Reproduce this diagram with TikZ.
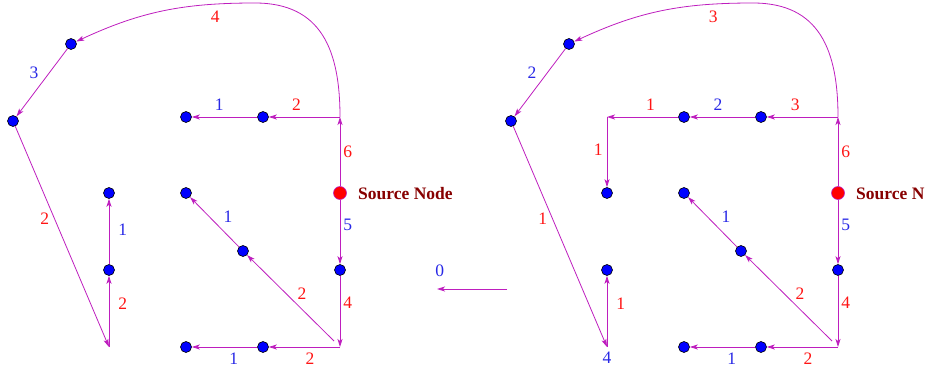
\documentclass[tikz,border=0pt]{standalone}
\usepackage{fontspec}
\setmainfont{Liberation Serif}
\usepackage{xcolor}
\usetikzlibrary{arrows.meta,positioning}
\definecolor{arestaCor}{RGB}{190,30,190}
\definecolor{azulRot}{RGB}{40,40,230}
\definecolor{vermRot}{RGB}{255,20,20}
\definecolor{fonteCor}{RGB}{135,0,0}
\newcommand{\tamRot}{\fontsize{17.5}{20}\selectfont}
\tikzset{
    vertice/.style={
        circle,
        draw=black,
        fill=blue,
        line width=0.6pt,
        minimum size=11pt,
        inner sep=0pt
    },
    fonte/.style={vertice, draw=arestaCor, fill=red, minimum size=13pt},
    aresta/.style={-{Stealth[length=8pt,width=5pt,inset=2pt]}, draw=arestaCor, line width=0.8pt},
    rotA/.style={text=azulRot, inner sep=1pt},
    rotV/.style={text=vermRot, inner sep=1pt},
    rotFonte/.style={text=fonteCor, font=\tamRot\bfseries, anchor=west, inner sep=0pt}
}

\begin{document}
\begin{tikzpicture}[x=1pt, y=-1pt, font=\tamRot]
    \useasboundingbox (0,0) rectangle (926,372);

    % grafo da esquerda
    \node[vertice] (eA) at (71,44) {};
    \node[vertice] (eB) at (13,121) {};
    \node[vertice] (eP1) at (186,117) {};
    \node[vertice] (eP2) at (263,117) {};
    \coordinate (eJ1) at (340,117);
    \coordinate (eTopo) at (255,3);
    \node[fonte] (eS) at (340,193) {};
    \node[rotFonte] (eSrot) at (358,194) {Source Node};
    \node[vertice] (eQ) at (340,270) {};
    \coordinate (eJ2) at (340,347);
    \node[vertice] (eR2) at (263,347) {};
    \node[vertice] (eR1) at (186,347) {};
    \coordinate (eJ3) at (334,341);
    \node[vertice] (eD) at (243,251) {};
    \node[vertice] (eE) at (186,193) {};
    \node[vertice] (eC1) at (109,193) {};
    \node[vertice] (eC2) at (109,270) {};
    \coordinate (eC3) at (109,347);

    \draw[aresta] (eS) -- node[rotV, pos=0.5, right=2pt] {6} (eJ1);
    \draw[aresta] (eJ1) -- node[rotV, pos=0.61, above=5pt] {2} (eP2);
    \draw[aresta] (eP2) -- node[rotA, pos=0.58, above=5pt] {1} (eP1);
    \draw[aresta] (eJ1) to[out=90, in=0, looseness=1.2] (eTopo)
        to[out=180, in=25] node[rotV, pos=0.2, below=5pt] {4} (eA);
    \draw[aresta] (eA) -- node[rotA, pos=0.35, left=10pt] {3} (eB);
    \draw[aresta] (eB) -- node[rotV, pos=0.42, left=4pt] {2} (eC3);
    \draw[aresta] (eC3) -- node[rotV, pos=0.61, right=8pt] {2} (eC2);
    \draw[aresta] (eC2) -- node[rotA, pos=0.52, right=8pt] {1} (eC1);
    \draw[aresta] (eS) -- node[rotA, pos=0.39, right=2pt] {5} (eQ);
    \draw[aresta] (eQ) -- node[rotV, pos=0.38, right=2pt] {4} (eJ2);
    \draw[aresta] (eJ2) -- node[rotV, pos=0.42, below=5pt] {2} (eR2);
    \draw[aresta] (eR2) -- node[rotA, pos=0.36, below=5pt] {1} (eR1);
    \draw[aresta] (eJ3) -- node[rotV, pos=0.45, above right=2pt] {2} (eD);
    \draw[aresta] (eD) -- node[rotA, pos=0.4, above right=4pt] {1} (eE);

    % seta do meio
    \coordinate (m1) at (507,289);
    \coordinate (m2) at (437,289);
    \draw[aresta] (m1) -- node[rotA, pos=0.96, above=11pt] {0} (m2);

    % grafo da direita
    \begin{scope}[xshift=498pt]
        \node[vertice] (dA) at (71,44) {};
        \node[vertice] (dB) at (13,121) {};
        \coordinate (dK) at (109,117);
        \node[vertice] (dP1) at (186,117) {};
        \node[vertice] (dP2) at (263,117) {};
        \coordinate (dJ1) at (340,117);
        \coordinate (dTopo) at (255,3);
        \node[fonte] (dS) at (340,193) {};
        \node[rotFonte] (dSrot) at (358,194) {Source N};
        \node[vertice] (dQ) at (340,270) {};
        \coordinate (dJ2) at (340,347);
        \node[vertice] (dR2) at (263,347) {};
        \node[vertice] (dR1) at (186,347) {};
        \coordinate (dJ3) at (334,341);
        \node[vertice] (dD) at (243,251) {};
        \node[vertice] (dE) at (186,193) {};
        \node[vertice] (dC1) at (109,193) {};
        \node[vertice] (dC2) at (109,270) {};
        \coordinate (dC3) at (109,347);
        \node[rotA, below=4pt] (dC3rot) at (dC3) {4};

        \draw[aresta] (dS) -- node[rotV, pos=0.5, right=2pt] {6} (dJ1);
        \draw[aresta] (dJ1) -- node[rotV, pos=0.6, above=5pt] {3} (dP2);
        \draw[aresta] (dP2) -- node[rotA, pos=0.57, above=5pt] {2} (dP1);
        \draw[aresta] (dP1) -- node[rotV, pos=0.39, above=5pt] {1} (dK);
        \draw[aresta] (dK) -- node[rotV, pos=0.46, left=3pt] {1} (dC1);
        \draw[aresta] (dJ1) to[out=90, in=0, looseness=1.2] (dTopo)
            to[out=180, in=25] node[rotV, pos=0.2, below=5pt] {3} (dA);
        \draw[aresta] (dA) -- node[rotA, pos=0.35, left=10pt] {2} (dB);
        \draw[aresta] (dB) -- node[rotV, pos=0.42, left=4pt] {1} (dC3);
        \draw[aresta] (dC3) -- node[rotV, pos=0.61, right=8pt] {1} (dC2);
        \draw[aresta] (dS) -- node[rotA, pos=0.39, right=2pt] {5} (dQ);
        \draw[aresta] (dQ) -- node[rotV, pos=0.38, right=2pt] {4} (dJ2);
        \draw[aresta] (dJ2) -- node[rotV, pos=0.42, below=5pt] {2} (dR2);
        \draw[aresta] (dR2) -- node[rotA, pos=0.36, below=5pt] {1} (dR1);
        \draw[aresta] (dJ3) -- node[rotV, pos=0.45, above right=2pt] {2} (dD);
        \draw[aresta] (dD) -- node[rotA, pos=0.4, above right=4pt] {1} (dE);
    \end{scope}
\end{tikzpicture}
\end{document}
